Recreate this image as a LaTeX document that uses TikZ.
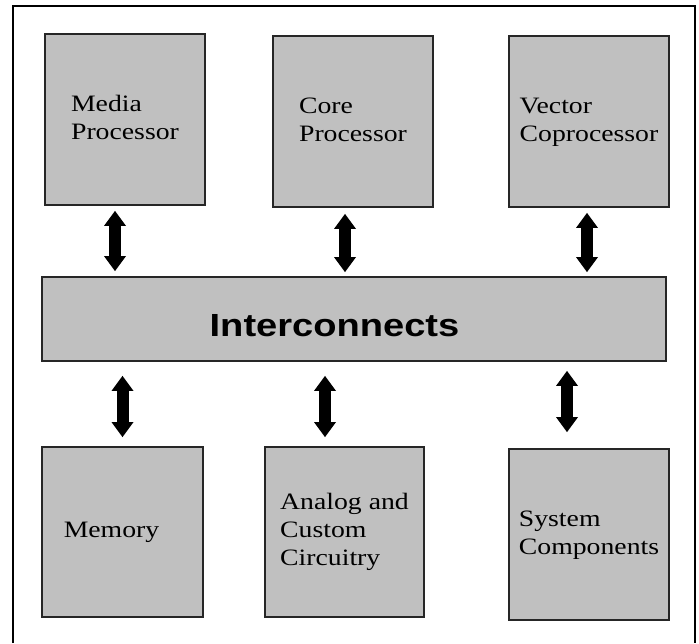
\documentclass[tikz,border=0pt]{standalone}
\usepackage{fontspec}
\setmainfont{Liberation Serif}
\newfontfamily\busfont{Liberation Sans}
\usepackage{graphicx}
\usetikzlibrary{arrows.meta, positioning}

\definecolor{unitgray}{RGB}{192,192,192}
\newcommand{\unittext}[1]{\scalebox{1.18}[1]{\begin{tabular}{@{}l@{}}#1\end{tabular}}}

\begin{document}
\begin{tikzpicture}[
  x=1pt, y=-1pt,
  unit/.style={draw=black!85, line width=1.8pt, fill=unitgray, minimum width=160pt,
               minimum height=171pt, inner sep=0pt, font=\fontsize{23.5}{28}\selectfont},
  bus/.style={draw=black!85, line width=1.8pt, fill=unitgray, minimum width=624pt,
              minimum height=84pt, inner sep=0pt},
  link/.style={{Triangle[width=22pt, length=15pt, line width=0pt]}-{Triangle[width=22pt, length=15pt, line width=0pt]},
               line width=12pt}
]
  \useasboundingbox (0,0) rectangle (699,643);
  % outer frame (open at the bottom)
  \draw[line width=1.5pt] (13,643) -- (13,6) -- (695,6) -- (695,643);

  \node[unit] (media)  at (125,119.5) {\unittext{Media\\Processor}};
  \node[unit] (core)   at (353,121.5) {\unittext{Core\\Processor}};
  \node[unit] (vector) at (589,121.5) {\unittext{Vector\\Coprocessor}};

  \node[bus, label={[font=\busfont\bfseries\fontsize{32}{36}\selectfont, xshift=-19.5pt, yshift=-7pt]center:\scalebox{1.19}[1]{Interconnects}}]
    (ic) at (354,319) {};

  \node[unit, minimum width=161pt, minimum height=170pt] (memory) at (122.5,532) {\unittext{Memory}\hspace*{22pt}};
  \node[unit, minimum width=159pt, minimum height=170pt] (analog) at (344.5,532) {\unittext{Analog and\\Custom\\Circuitry}};
  \node[unit] (system) at (589,534.5) {\unittext{System\\Components}};

  % links to the interconnect bus
  \foreach \n/\dx/\a/\b in {media/-10/5/5, core/-8/6/4, vector/-2/5/4}
    \draw[link, shorten <=\a pt, shorten >=\b pt] ([xshift=\dx pt]\n.south) -- ([xshift=\dx pt]\n.south |- ic.north);
  \foreach \n/\dx/\a/\b in {memory/0/9/14, analog/-19.5/9/14, system/-22/16/9}
    \draw[link, shorten <=\a pt, shorten >=\b pt] ([xshift=\dx pt]\n.north) -- ([xshift=\dx pt]\n.north |- ic.south);
\end{tikzpicture}
\end{document}
